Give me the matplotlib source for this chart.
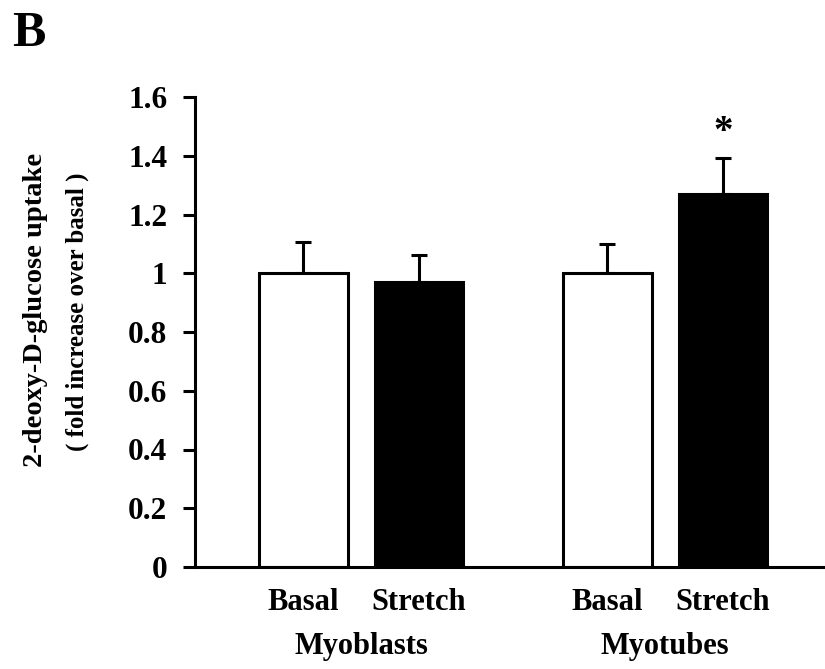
import matplotlib
matplotlib.use('Agg')
import matplotlib.pyplot as plt

# Data
groups = ['Myoblasts', 'Myotubes']
conditions = ['Basal', 'Stretch', 'Basal', 'Stretch']
uptake = [1.0, 0.97, 1.0, 1.27]
sem = [0.106, 0.092, 0.10, 0.122]
colors = ['white', 'black', 'white', 'black']
significant = [False, False, False, True]
yticks = [0, 0.2, 0.4, 0.6, 0.8, 1.0, 1.2, 1.4, 1.6]
ytick_labels = ['0', '0.2', '0.4', '0.6', '0.8', '1', '1.2', '1.4', '1.6']

plt.rcParams['font.family'] = ['Liberation Serif', 'DejaVu Serif']
plt.rcParams['font.weight'] = 'bold'

fig = plt.figure(figsize=(8.25, 6.69), dpi=100)
W, H = 825, 669
ax = fig.add_axes([195 / W, (H - 567) / H, (W - 195) / W, (567 - 97) / H])

# bar positions (unit = spacing inside a group)
xpos = [0, 1, 2.632, 3.632]
bar_w = 0.77

ax.bar(xpos, uptake, width=bar_w, color=colors, edgecolor='black', linewidth=2.2, zorder=2)
ax.errorbar(xpos, uptake, yerr=[[0] * len(sem), sem], fmt='none', ecolor='black',
            elinewidth=2.2, capsize=5.8, capthick=2.2, zorder=1)

for x, v, e, s in zip(xpos, uptake, sem, significant):
    if s:
        ax.text(x, v + e + 0.025, '*', ha='center', va='bottom', fontsize=28, fontweight='bold')

ax.set_xlim(-0.939, 4.515)
ax.set_ylim(0, 1.6)
ax.set_yticks(yticks)
ax.set_yticklabels(ytick_labels, fontsize=22.5, fontweight='bold')
ax.tick_params(axis='y', direction='out', length=9, width=2.2, pad=11)
ax.set_xticks([])

for side in ['top', 'right']:
    ax.spines[side].set_visible(False)
for side in ['left', 'bottom']:
    ax.spines[side].set_linewidth(2.2)

# condition labels and group labels below the axis
trans = ax.get_xaxis_transform()
for x, c in zip(xpos, conditions):
    ax.text(x, -0.075, c, transform=trans, ha='center', va='center', fontsize=22, fontweight='bold')
for i, g in enumerate(groups):
    gx = (xpos[2 * i] + xpos[2 * i + 1]) / 2
    ax.text(gx, -0.17, g, transform=trans, ha='center', va='center', fontsize=22, fontweight='bold')

# y axis label in two lines
fig.text(36 / W, 1 - 310 / H, '2-deoxy-D-glucose uptake', rotation=90, ha='center', va='center',
         fontsize=20.5, fontweight='bold')
fig.text(77 / W, 1 - 312 / H, '( fold increase over basal )', rotation=90, ha='center', va='center',
         fontsize=18, fontweight='bold')

# panel letter
fig.text(12 / W, 1 - 46 / H, 'B', ha='left', va='baseline', fontsize=36, fontweight='bold')

fig.savefig('out.png', dpi=100, facecolor='white')
